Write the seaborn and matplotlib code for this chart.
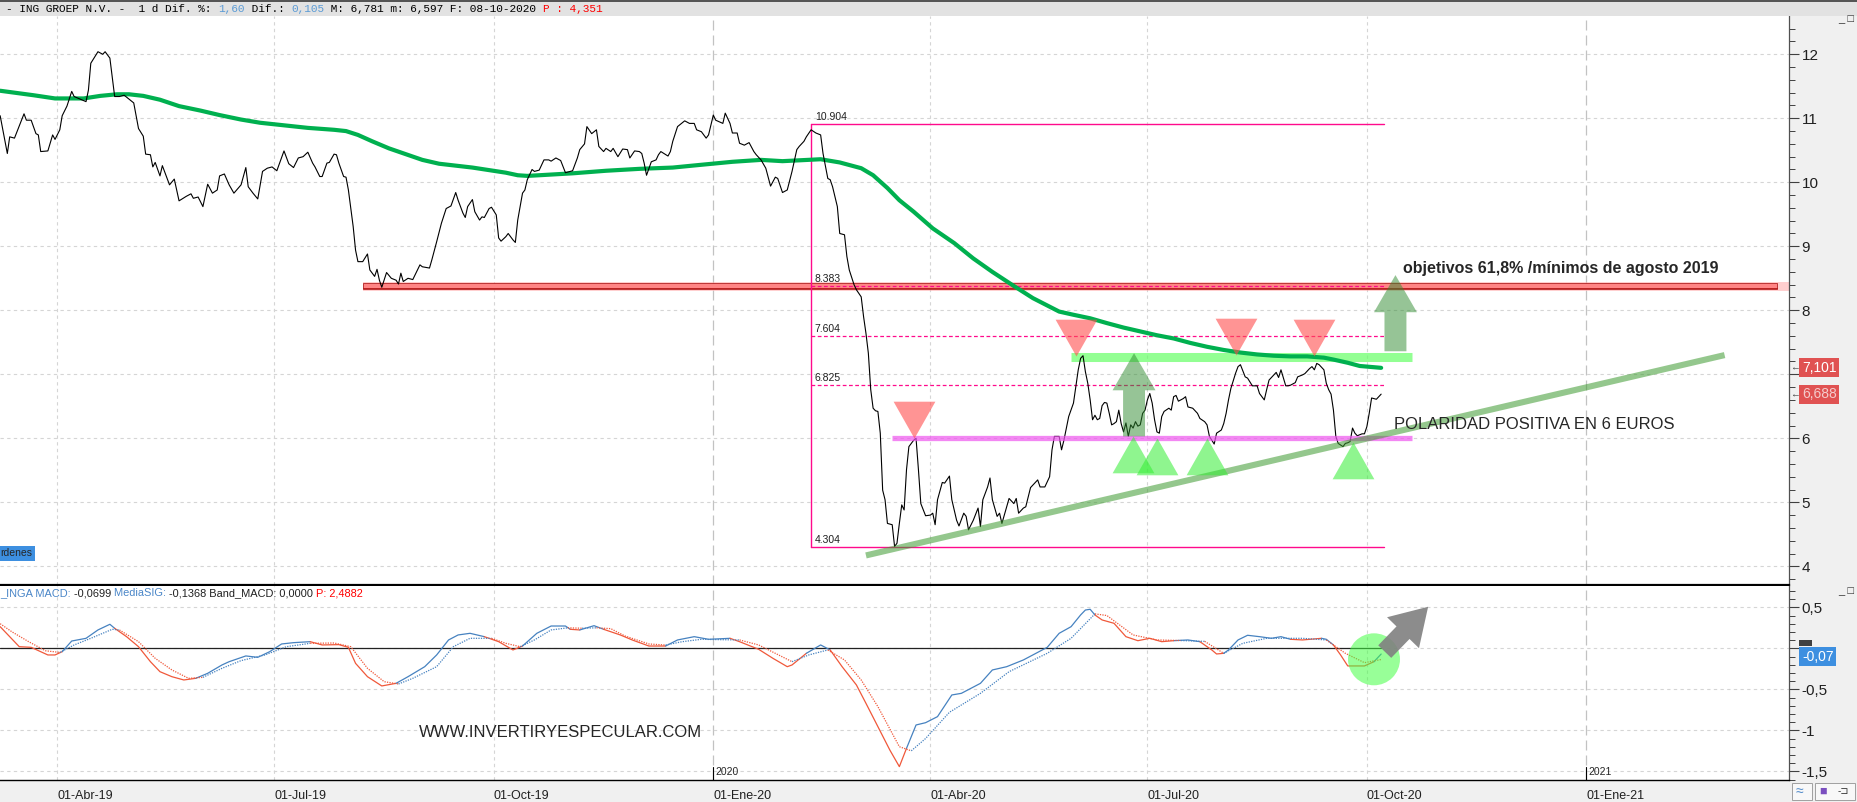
import numpy as np
import pandas as pd
import matplotlib
matplotlib.use("Agg")
import matplotlib.pyplot as plt
from matplotlib.patches import Rectangle, FancyArrow
from matplotlib.ticker import MultipleLocator
import seaborn as sns

sns.set_style("white")
plt.rcParams["font.family"] = ["Liberation Sans", "DejaVu Sans"]

# every *_day list counts calendar days from this date
BASE = pd.Timestamp("2019-04-01")

# ING Groep daily close
price_day = [-24, -21, -20, -18, -14, -13, -11, -9, -8, -7, -4, -2, -1, 1, 2, 4, 6, 7, 12, 13, 14, 17, 19, 20, 22,
             24, 26, 28, 32, 34, 36, 37, 39, 40, 41, 43, 44, 46, 47, 49, 51, 54, 56, 57, 59, 61, 63, 65, 67, 68,
             70, 72, 74, 77, 79, 80, 82, 84, 86, 88, 90, 92, 95, 97, 99, 101, 103, 105, 107, 108, 110, 111, 113,
             114, 116, 117, 118, 120, 121, 122, 124, 125, 126, 128, 130, 131, 133, 134, 135, 136, 138, 140, 142,
             143, 144, 145, 147, 149, 152, 153, 156, 157, 159, 161, 163, 165, 167, 168, 170, 171, 172, 174, 175,
             177, 178, 179, 181, 182, 184, 185, 186, 188, 189, 191, 192, 193, 195, 196, 197, 199, 200, 202, 204,
             206, 207, 209, 211, 213, 216, 218, 219, 221, 222, 224, 226, 227, 229, 230, 232, 233, 235, 237, 239,
             240, 242, 244, 245, 246, 247, 249, 251, 252, 253, 256, 257, 258, 260, 263, 265, 267, 268, 270, 272,
             273, 275, 276, 279, 280, 282, 283, 285, 286, 288, 290, 292, 293, 295, 297, 299, 301, 302, 304, 306,
             308, 310, 311, 313, 314, 316, 318, 320, 321, 323, 324, 325, 327, 328, 330, 331, 332, 334, 335, 337,
             338, 339, 340, 341, 342, 343, 344, 345, 346, 347, 348, 350, 351, 352, 353, 354, 355, 356, 357, 359,
             360, 361, 362, 364, 366, 367, 368, 369, 371, 372, 374, 375, 377, 378, 380, 381, 382, 384, 386, 387,
             388, 390, 391, 392, 394, 395, 396, 398, 399, 401, 402, 403, 405, 406, 408, 409, 411, 412, 414, 416,
             417, 418, 420, 421, 422, 424, 426, 427, 428, 429, 430, 431, 432, 433, 434, 435, 436, 437, 438, 439,
             440, 441, 442, 443, 444, 445, 446, 447, 448, 449, 450, 451, 452, 453, 454, 455, 456, 457, 458, 459,
             460, 461, 462, 463, 464, 466, 467, 468, 469, 470, 471, 472, 473, 474, 476, 478, 479, 481, 482, 483,
             485, 486, 488, 489, 490, 491, 492, 494, 495, 496, 498, 499, 501, 503, 504, 506, 507, 508, 510, 511,
             512, 513, 515, 516, 517, 519, 520, 522, 523, 525, 526, 527, 528, 529, 531, 532, 533, 534, 535, 536,
             537, 539, 540, 541, 542, 543, 544, 545, 547, 548, 549, 550, 551, 553, 555]
price_close = [11.04, 10.45, 10.71, 10.69, 11.07, 10.97, 10.97, 10.76, 10.74, 10.48, 10.49, 10.74, 10.67, 10.82,
               11.04, 11.19, 11.42, 11.34, 11.26, 11.44, 11.86, 12.04, 12.00, 12.04, 11.94, 11.34, 11.34, 11.36,
               11.24, 10.84, 10.72, 10.44, 10.43, 10.24, 10.31, 10.10, 10.26, 10.06, 9.96, 10.05, 9.71, 9.78, 9.82,
               9.75, 9.77, 9.62, 9.97, 9.83, 9.88, 10.10, 10.13, 9.96, 9.83, 9.96, 10.23, 9.93, 9.83, 9.74, 10.17,
               10.22, 10.24, 10.18, 10.49, 10.29, 10.23, 10.38, 10.40, 10.47, 10.30, 10.24, 10.09, 10.09, 10.30,
               10.31, 10.44, 10.43, 10.30, 10.09, 10.08, 9.88, 9.31, 8.94, 8.76, 8.76, 8.88, 8.63, 8.53, 8.64, 8.47,
               8.36, 8.59, 8.50, 8.47, 8.41, 8.58, 8.45, 8.50, 8.48, 8.71, 8.68, 8.66, 8.79, 9.07, 9.36, 9.59, 9.63,
               9.84, 9.72, 9.52, 9.45, 9.62, 9.73, 9.54, 9.41, 9.46, 9.45, 9.59, 9.61, 9.49, 9.13, 9.08, 9.15, 9.20,
               9.10, 9.06, 9.41, 9.83, 9.88, 10.04, 10.20, 10.17, 10.19, 10.35, 10.35, 10.33, 10.38, 10.34, 10.15,
               10.18, 10.38, 10.51, 10.60, 10.87, 10.76, 10.82, 10.56, 10.48, 10.53, 10.48, 10.53, 10.40, 10.52,
               10.51, 10.38, 10.49, 10.48, 10.45, 10.30, 10.11, 10.32, 10.35, 10.43, 10.48, 10.41, 10.48, 10.64,
               10.87, 10.96, 10.92, 10.92, 10.82, 10.79, 10.69, 10.74, 11.05, 10.97, 10.92, 11.08, 10.92, 10.77,
               10.77, 10.61, 10.58, 10.62, 10.48, 10.43, 10.35, 10.22, 9.94, 10.08, 10.06, 9.84, 9.88, 10.17, 10.51,
               10.56, 10.64, 10.71, 10.82, 10.77, 10.74, 10.45, 10.06, 10.04, 9.93, 9.62, 9.20, 9.18, 8.84, 8.63,
               8.40, 8.32, 8.21, 7.90, 7.64, 7.33, 6.76, 6.47, 6.43, 6.42, 6.08, 5.19, 5.04, 4.67, 4.65, 4.31, 4.36,
               4.67, 4.96, 4.88, 5.51, 5.87, 5.97, 6.00, 5.51, 4.98, 4.79, 4.80, 4.83, 4.65, 5.04, 5.31, 5.30, 5.41,
               5.04, 4.72, 4.63, 4.83, 4.78, 4.57, 4.72, 4.91, 4.62, 5.04, 5.24, 5.38, 5.04, 4.78, 4.83, 4.67, 4.93,
               5.06, 4.98, 5.06, 4.83, 4.91, 4.93, 5.23, 5.27, 5.35, 5.24, 5.24, 5.40, 5.82, 6.03, 6.03, 5.82, 5.97,
               6.34, 6.55, 6.81, 7.07, 7.25, 7.29, 7.04, 6.86, 6.60, 6.29, 6.36, 6.29, 6.31, 6.51, 6.56, 6.55, 6.39,
               6.21, 6.23, 6.26, 6.44, 6.23, 6.10, 6.24, 6.03, 6.21, 6.16, 6.26, 6.19, 6.21, 6.39, 6.44, 6.60, 6.70,
               6.55, 6.29, 6.10, 6.08, 6.34, 6.42, 6.47, 6.44, 6.65, 6.67, 6.58, 6.60, 6.62, 6.65, 6.49, 6.47, 6.39,
               6.31, 6.26, 6.21, 6.03, 5.91, 6.08, 6.13, 6.23, 6.39, 6.60, 6.78, 7.02, 7.12, 7.15, 6.96, 6.94, 6.82,
               6.82, 6.70, 6.60, 6.76, 6.91, 6.99, 7.03, 6.95, 7.07, 6.82, 6.82, 6.83, 6.87, 6.96, 6.99, 7.01, 7.09,
               7.12, 7.07, 7.17, 7.15, 7.07, 6.86, 6.76, 6.69, 6.44, 6.03, 5.92, 5.87, 5.92, 5.93, 5.95, 6.16, 6.08,
               6.04, 6.07, 6.07, 6.18, 6.39, 6.63, 6.61, 6.69]

# 200 session moving average
ma_day = [-24, -10, -1, 11, 18, 25, 30, 36, 43, 51, 60, 68, 77, 85, 95, 105, 116, 121, 126, 132, 139, 146, 153,
          160, 167, 174, 181, 188, 193, 197, 202, 216, 230, 244, 258, 269, 283, 295, 304, 320, 328, 337, 342, 348,
          353, 359, 367, 376, 384, 392, 401, 409, 420, 426, 433, 440, 447, 454, 461, 468, 475, 482, 489, 496, 503,
          510, 517, 524, 531, 535, 541, 546, 555]
ma200 = [11.43, 11.36, 11.31, 11.31, 11.35, 11.375, 11.375, 11.35, 11.29, 11.19, 11.12, 11.05, 10.98, 10.93, 10.89,
         10.85, 10.82, 10.80, 10.74, 10.64, 10.53, 10.44, 10.35, 10.29, 10.26, 10.23, 10.19, 10.15, 10.11, 10.10,
         10.11, 10.14, 10.18, 10.21, 10.23, 10.27, 10.32, 10.35, 10.33, 10.36, 10.31, 10.22, 10.11, 9.91, 9.72, 9.54,
         9.28, 9.05, 8.81, 8.60, 8.38, 8.19, 7.98, 7.93, 7.875, 7.80, 7.73, 7.67, 7.61, 7.56, 7.49, 7.43, 7.38, 7.34,
         7.31, 7.29, 7.28, 7.28, 7.26, 7.23, 7.18, 7.13, 7.101]

# MACD and its signal line (MediaSIG)
macd_day = [-24, -20, -16, -11, -4, -1, 2, 6, 12, 17, 22, 24, 29, 34, 39, 43, 48, 53, 58, 63, 69, 72, 79, 84, 89,
            94, 99, 106, 111, 118, 122, 125, 130, 136, 142, 147, 154, 159, 164, 168, 173, 179, 185, 191, 195, 201,
            207, 213, 215, 219, 225, 229, 236, 241, 248, 255, 260, 267, 273, 282, 286, 294, 300, 306, 308, 314, 320,
            324, 329, 335, 339, 344, 349, 353, 356, 360, 364, 369, 375, 379, 387, 392, 398, 405, 415, 420, 425, 429,
            431, 433, 435, 438, 443, 448, 453, 458, 463, 468, 474, 479, 484, 486, 489, 491, 495, 499, 504, 509, 513,
            517, 522, 530, 532, 535, 538, 541, 548, 552, 555]
macd_val = [0.264, 0.142, 0.020, 0.012, -0.081, -0.081, -0.041, 0.089, 0.122, 0.224, 0.293, 0.244, 0.142, 0.020,
            -0.163, -0.285, -0.346, -0.386, -0.366, -0.305, -0.203, -0.163, -0.093, -0.110, -0.041, 0.053, 0.069,
            0.081, 0.041, 0.045, 0.012, -0.183, -0.346, -0.459, -0.427, -0.346, -0.224, -0.081, 0.102, 0.163, 0.183,
            0.142, 0.081, -0.020, 0.028, 0.183, 0.272, 0.272, 0.232, 0.224, 0.276, 0.232, 0.163, 0.102, 0.028, 0.028,
            0.102, 0.142, 0.110, 0.122, 0.081, -0.012, -0.122, -0.224, -0.203, -0.061, 0.041, -0.020, -0.224, -0.447,
            -0.671, -0.955, -1.240, -1.443, -1.220, -0.935, -0.907, -0.833, -0.569, -0.549, -0.427, -0.264, -0.224,
            -0.142, 0.012, 0.183, 0.264, 0.407, 0.467, 0.476, 0.407, 0.346, 0.305, 0.142, 0.093, 0.122, 0.081, 0.093,
            0.102, 0.081, -0.020, -0.069, -0.061, -0.020, 0.102, 0.159, 0.142, 0.122, 0.142, 0.110, 0.102, 0.122,
            0.110, 0.041, -0.081, -0.215, -0.215, -0.163, -0.0699]
signal_day = [-24, -19, -12, -5, 1, 7, 14, 23, 26, 34, 41, 48, 55, 61, 69, 77, 87, 96, 106, 116, 123, 130, 137, 143,
              149, 159, 166, 173, 182, 188, 194, 200, 207, 214, 220, 226, 232, 238, 248, 255, 262, 270, 279, 286,
              294, 301, 308, 315, 323, 330, 337, 344, 353, 358, 364, 374, 387, 399, 415, 425, 435, 440, 451, 461,
              471, 481, 489, 497, 507, 522, 532, 540, 548, 555]
signal_val = [0.30, 0.20, 0.08, -0.03, -0.05, 0.041, 0.122, 0.232, 0.224, 0.081, -0.122, -0.264, -0.366, -0.354,
              -0.244, -0.150, -0.081, 0.020, 0.061, 0.065, 0.020, -0.244, -0.407, -0.435, -0.366, -0.224, 0.020,
              0.122, 0.122, 0.061, 0.020, 0.102, 0.224, 0.250, 0.245, 0.250, 0.240, 0.150, 0.053, 0.040, 0.081,
              0.110, 0.105, 0.102, 0.041, -0.061, -0.163, -0.081, -0.020, -0.142, -0.386, -0.711, -1.200, -1.250,
              -1.100, -0.780, -0.549, -0.285, -0.061, 0.122, 0.420, 0.400, 0.163, 0.102, 0.095, 0.085, -0.061, 0.061,
              0.122, 0.122, 0.102, -0.061, -0.175, -0.1368]

# drawings on the price panel
fib_levels = [10.904, 8.383, 7.604, 6.825, 4.304]
fib_from, fib_to = 316, 556
target_from, target_to = 128, 721          # "minimos de agosto 2019"
target_level = 8.383
support_from, support_to, support_level = 350, 568, 6.0
resist_from, resist_to, resist_level = 425, 568, 7.27
trend_day = [339, 699]
trend_price = [4.17, 7.30]
top_day = [359, 427, 494, 527]
top_price = [6.00, 7.29, 7.30, 7.29]
bottom_day = [451, 461, 482, 543]
bottom_price = [6.03, 6.00, 6.01, 5.95]
arrow_day = [451.4, 561.0]
arrow_from = [6.03, 7.36]
arrow_to = [7.33, 8.55]

quarters = ["2019-04-01", "2019-07-01", "2019-10-01", "2020-01-01",
            "2020-04-01", "2020-07-01", "2020-10-01", "2021-01-01"]
quarter_labels = ["01-Abr-19", "01-Jul-19", "01-Oct-19", "01-Ene-20",
                  "01-Abr-20", "01-Jul-20", "01-Oct-20", "01-Ene-21"]
years = ["2020-01-01", "2021-01-01"]
last_close, last_ma, last_macd = 6.688, 7.101, -0.0699

q_day = [(pd.Timestamp(q) - BASE).days for q in quarters]
y_day = [(pd.Timestamp(y) - BASE).days for y in years]

W, H = 1857, 802
fig = plt.figure(figsize=(W / 100, H / 100), dpi=100, facecolor="#f0f0f0")
ax = fig.add_axes([0, (H - 585) / H, 1789 / W, 569 / H], facecolor="white")
mx = fig.add_axes([0, 22 / H, 1789 / W, 194 / H], facecolor="white")
XL = (-24.07, 726.0)

GRID = dict(color="#d5d5d5", lw=0.8, ls=(0, (3, 3)), zorder=0)
YEARGRID = dict(color="#c2c2c2", lw=0.9, ls=(0, (8, 4)), zorder=0)
for a in (ax, mx):
    for d in q_day:
        a.axvline(d, **(YEARGRID if d in y_day else GRID))
for p in range(4, 13):
    ax.axhline(p, **GRID)
for m in (0.5, 0, -0.5, -1, -1.5):
    mx.axhline(m, **GRID)

# ---- price panel ----
ax.add_patch(Rectangle((target_from, 8.30), 726 - target_from, 0.14, fc="#ffa0a0", ec="none", alpha=0.5, zorder=1))
ax.add_patch(Rectangle((target_from, 8.34), target_to - target_from, 0.08, fc="#ff8585", ec="#b22222",
                       lw=0.6, zorder=1.1))
ax.plot([target_from, target_to], [8.35, 8.35], color="#b01010", lw=0.6, zorder=1.2)

FIB = "#ff0a8c"
ax.plot([fib_from, fib_from], [fib_levels[-1], fib_levels[0]], color=FIB, lw=1, zorder=2)
for lvl in fib_levels:
    solid = lvl in (fib_levels[0], fib_levels[-1])
    ax.plot([fib_from, fib_to], [lvl, lvl], color=FIB, lw=1 if solid else 0.9,
            ls="-" if solid else (0, (3, 2)), zorder=2)
    ax.annotate(f"{lvl:.3f}", (fib_from + 1.6, lvl), xytext=(0, 1.5), textcoords="offset points",
                fontsize=7.5, color="#202020", va="bottom", ha="left", zorder=7)

ax.plot([resist_from, resist_to], [resist_level] * 2, color="#66ff66", alpha=0.7, lw=6.5,
        solid_capstyle="butt", zorder=2.5)
sns.lineplot(x=ma_day, y=ma200, ax=ax, color="#00b04f", linewidth=3.0, estimator=None, sort=False, zorder=3)
sns.lineplot(x=price_day, y=price_close, ax=ax, color="black", linewidth=0.8, estimator=None, sort=False, zorder=4)
ax.plot([support_from, support_to], [support_level] * 2, color="#ee55ee", alpha=0.7, lw=3.8,
        solid_capstyle="butt", zorder=5)
ax.plot(trend_day, trend_price, color="#3d9a2f", alpha=0.55, lw=4.4, solid_capstyle="butt", zorder=5)

down = [(-21, 37), (21, 37), (0, 0)]
up = [(-21, -37), (21, -37), (0, 0)]
ax.plot(top_day, top_price, ls="none", marker=down, ms=53, mfc="#ff4d4d", mec="none", alpha=0.6, zorder=6)
ax.plot(bottom_day, bottom_price, ls="none", marker=up, ms=53, mfc="#33ee33", mec="none", alpha=0.55, zorder=6)
for d, y0, y1 in zip(arrow_day, arrow_from, arrow_to):
    ax.add_patch(FancyArrow(d, y0, 0, y1 - y0, width=9.2, head_width=18, head_length=0.58,
                            length_includes_head=True, fc="#2e8b2e", ec="none", alpha=0.5, zorder=6))

ax.text(564.2, 8.656, "objetivos 61,8% /mínimos de agosto 2019", fontsize=11.5, fontweight="bold",
        ha="left", va="center", zorder=7)
ax.text(560.5, 6.208, "POLARIDAD POSITIVA EN 6 EUROS", fontsize=12, ha="left", va="center", zorder=7)
ax.text(0.0, 0.0554, "rdenes", transform=ax.transAxes, fontsize=7.5, ha="left", va="center",
        bbox=dict(boxstyle="square,pad=0.25", fc="#3d8fe0", ec="none"), zorder=7)

# ---- MACD panel ----
BLUE, RED = "#4682c0", "#f0583a"


def runs(x, y, ox, oy, is_macd, **kw):
    x, y = np.asarray(x, float), np.asarray(y, float)
    mid = (x[:-1] + x[1:]) / 2
    a = np.interp(mid, x, y)
    b = np.interp(mid, ox, oy)
    blue = a > b if is_macd else b > a
    start = 0
    for i in range(1, len(blue) + 1):
        if i == len(blue) or blue[i] != blue[start]:
            mx.plot(x[start:i + 1], y[start:i + 1], color=BLUE if blue[start] else RED, zorder=3, **kw)
            start = i


mx.plot([XL[0], macd_day[-1]], [0, 0], color="#222222", lw=0.9, zorder=2)
runs(macd_day, macd_val, signal_day, signal_val, True, lw=0.9)
runs(signal_day, signal_val, macd_day, macd_val, False, lw=0.9, ls=(0, (1, 1)))
mx.scatter([552], [-0.134], s=1400, color="#44ff44", alpha=0.55, edgecolor="none", zorder=5)
mx.annotate("", xy=(574.7, 0.507), xytext=(556.5, -0.04),
            arrowprops=dict(arrowstyle="simple,head_length=2.6,head_width=3.2,tail_width=1.3",
                            mutation_scale=10, fc="#808080", ec="none", alpha=0.9, shrinkA=0, shrinkB=0),
            zorder=6)
mx.text(151.6, -1.029, "WWW.INVERTIRYESPECULAR.COM", fontsize=12, ha="left", va="center", zorder=7)
for d, lab in zip(y_day, ["2020", "2021"]):
    mx.plot([d, d], [-1.61, -1.45], color="black", lw=0.8, zorder=4)
    mx.text(d + 0.8, -1.505, lab, fontsize=7.5, ha="left", va="center")

# ---- axes cosmetics ----
for a in (ax, mx):
    a.set_xlim(*XL)
    a.set_xlabel("")
    a.set_ylabel("")
    for s in ("left", "top"):
        a.spines[s].set_visible(False)
    a.spines["right"].set_color("#505050")
    a.spines["right"].set_linewidth(0.9)
    a.yaxis.tick_right()
    a.tick_params(axis="y", which="major", direction="out", length=7, width=0.8, color="#404040",
                  labelsize=11, pad=2, labelcolor="#202020")
    a.tick_params(axis="y", which="minor", direction="out", length=4, width=0.7, color="#404040")

ax.set_ylim(3.708, 12.598)
ax.set_yticks(range(4, 13))
# the "7" label sits under the 7,101 value box
ax.set_yticklabels(["" if p == 7 else str(p) for p in range(4, 13)])
ax.yaxis.set_minor_locator(MultipleLocator(0.2))
ax.set_xticks([])
ax.spines["bottom"].set_color("black")
ax.spines["bottom"].set_linewidth(1.6)

mx.set_ylim(-1.606, 0.760)
mx.set_yticks([-1.5, -1, -0.5, 0, 0.5])
mx.set_yticklabels(["-1,5", "-1", "-0,5", "", "0,5"])
mx.yaxis.set_minor_locator(MultipleLocator(0.1))
mx.spines["bottom"].set_color("black")
mx.spines["bottom"].set_linewidth(1.0)
mx.set_xticks(q_day)
mx.set_xticklabels(quarter_labels, ha="left", fontsize=9)
mx.tick_params(axis="x", direction="out", length=6, width=0.8, color="black", pad=1, labelcolor="#202020")

# last-value boxes on the right scale
yt = ax.get_yaxis_transform()
for val, tc in ((last_ma, "white"), (last_close, "#f4cccc")):
    ax.text(1.0072, val, f"{val:.3f}".replace(".", ","), transform=yt, fontsize=10, color=tc, ha="left",
            va="center", clip_on=False, zorder=8,
            bbox=dict(boxstyle="square,pad=0.18", fc="#e05252", ec="none"))
    ax.text(1.0008, val, "←", transform=yt, fontsize=7, color="#444444", ha="left", va="center", clip_on=False)
mt = mx.get_yaxis_transform()
mx.add_patch(Rectangle((1.0056, 0.03), 13 / 1789, 0.07, transform=mt, fc="#404040", ec="none", clip_on=False))
mx.text(1.0072, last_macd - 0.03, f"{last_macd:.2f}".replace(".", ","), transform=mt, fontsize=10,
        color="white", ha="left", va="center", clip_on=False, zorder=8,
        bbox=dict(boxstyle="square,pad=0.18", fc="#3d8fe0", ec="none"))

# ---- header strips ----
fig.patches.append(Rectangle((0, 1 - 16 / H), 1, 16 / H, transform=fig.transFigure, fc="#e2e2e2",
                             ec="none", zorder=0))
fig.patches.append(Rectangle((0, 1 - 1.5 / H), 1, 1.5 / H, transform=fig.transFigure, fc="#555555",
                             ec="none", zorder=1))
renderer = fig.canvas.get_renderer()


def chain(x_px, y_px, parts, **kw):
    done = ""
    for s, c in parts:
        off = 0
        if done:
            probe = fig.text(0, 0, "|" + done + "|", **kw)
            off = probe.get_window_extent(renderer).width
            probe.set_text("||")
            off -= probe.get_window_extent(renderer).width
            probe.remove()
        fig.text((x_px + off) / W, 1 - y_px / H, s, color=c, ha="left", va="center", **kw)
        done += s


chain(6, 8.5, [("- ING GROEP N.V. -  1 d Dif. %: ", "black"), ("1,60", "#5b9bd5"), (" Dif.: ", "black"),
               ("0,105", "#5b9bd5"), (" M: 6,781 m: 6,597 F: 08-10-2020 ", "black"), ("P : 4,351", "red")],
      family="Liberation Mono", fontsize=8)
chain(0, 593.5, [("_INGA MACD: ", "#4a86c8"), ("-0,0699 ", "#202020"), ("MediaSIG: ", "#4a86c8"),
                 ("-0,1368 Band_MACD: 0,0000 ", "#202020"), ("P: 2,4882", "red")], fontsize=7.9)

fig.text(1838 / W, 1 - 19 / H, "_ □", fontsize=8, color="#333333", ha="left", va="center", zorder=5)
fig.text(1838 / W, 1 - 591 / H, "_ □", fontsize=8, color="#333333", ha="left", va="center", zorder=5)
for x0, w in ((1792, 20), (1815, 40)):
    fig.patches.append(Rectangle((x0 / W, 2 / H), w / W, 17 / H, transform=fig.transFigure,
                                 fc="#f8f8f8", ec="#a0a0a0", lw=0.7))
fig.text(1796 / W, 10.5 / H, "≈", fontsize=10, color="#4a86c8", ha="left", va="center")
fig.text(1819 / W, 10.5 / H, "■", fontsize=9, color="#7b4fbf", ha="left", va="center")
fig.text(1838 / W, 10.5 / H, "-⊐", fontsize=7, color="#333333", ha="left", va="center")

fig.savefig("out.png", dpi=100, facecolor=fig.get_facecolor())
